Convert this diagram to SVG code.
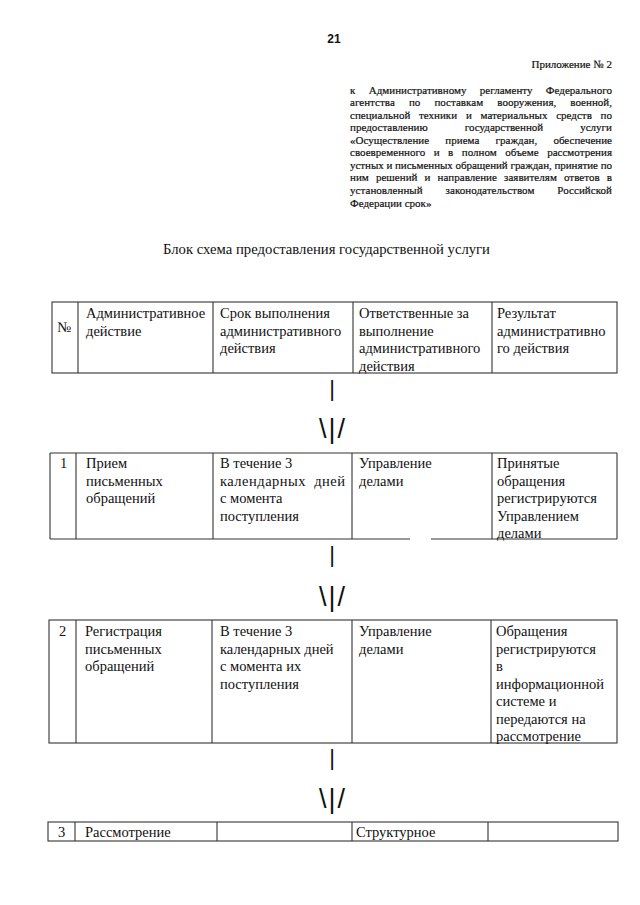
<svg xmlns="http://www.w3.org/2000/svg" width="640" height="905" viewBox="0 0 640 905">
<style>
  .p { font-family: "Liberation Serif", "Times New Roman", serif; font-size: 11px; fill: #111; stroke: #111; stroke-width: 0.2; }
  .e { text-anchor: end; }
  .t { font-family: "Liberation Serif", "Times New Roman", serif; font-size: 14.5px; fill: #111; }
  .ttl { font-family: "Liberation Serif", "Times New Roman", serif; font-size: 14.5px; fill: #111; }
  .cell { fill: none; stroke: #333; stroke-width: 1.1; }
  .arr { font-family: "Liberation Sans", Arial, sans-serif; fill: #111; text-anchor: middle; }
</style>
<rect width="640" height="905" fill="#fff"/>
<g id="header-text">
  <text x="334" y="43" style="font-family:'Liberation Sans',Arial,sans-serif;font-size:12px;font-weight:bold;fill:#111" text-anchor="middle">21</text>
  <text class="p e" x="612" y="68">Приложение № 2</text>
  <g class="p">
    <text x="350" y="93.5" word-spacing="10.6" textLength="262" lengthAdjust="spacing">к Административному регламенту Федерального</text>
    <text x="350" y="106" word-spacing="11.3" textLength="262" lengthAdjust="spacing">агентства по поставкам вооружения, военной,</text>
    <text x="350" y="118.6" word-spacing="6" textLength="262" lengthAdjust="spacing">специальной техники и материальных средств по</text>
    <text x="350" y="131.2" word-spacing="34.3" textLength="262" lengthAdjust="spacing">предоставлению государственной услуги</text>
    <text x="350" y="143.7" word-spacing="13.5" textLength="262" lengthAdjust="spacing">«Осуществление приема граждан, обеспечение</text>
    <text x="350" y="156.3" word-spacing="5.7" textLength="262" lengthAdjust="spacing">своевременного и в полном объеме рассмотрения</text>
    <text x="350" y="168.8" textLength="262" lengthAdjust="spacing">устных и письменных обращений граждан, принятие по</text>
    <text x="350" y="181.4" word-spacing="4.3" textLength="262" lengthAdjust="spacing">ним решений и направление заявителям ответов в</text>
    <text x="350" y="193.9" word-spacing="20.1" textLength="262" lengthAdjust="spacing">установленный законодательством Российской</text>
    <text x="350" y="206.5">Федерации срок»</text>
  </g>
  <text class="ttl" x="163" y="254" textLength="327" lengthAdjust="spacingAndGlyphs">Блок схема предоставления государственной услуги</text>
</g>

<g id="row-head">
  <rect class="cell" x="52" y="302" width="565" height="71"/>
  <line class="cell" x1="78" y1="302" x2="78" y2="373"/>
  <line class="cell" x1="213" y1="302" x2="213" y2="373"/>
  <line class="cell" x1="353" y1="302" x2="353" y2="373"/>
  <line class="cell" x1="492" y1="302" x2="492" y2="373"/>
  <text class="t" x="57" y="332">№</text>
  <text class="t"><tspan x="86" y="318">Административное</tspan><tspan x="86" y="335.5">действие</tspan></text>
  <text class="t"><tspan x="220" y="318">Срок выполнения</tspan><tspan x="220" y="335.5">административного</tspan><tspan x="220" y="353">действия</tspan></text>
  <text class="t"><tspan x="359" y="318">Ответственные за</tspan><tspan x="359" y="335.5">выполнение</tspan><tspan x="359" y="353">административного</tspan><tspan x="359" y="370.5">действия</tspan></text>
  <text class="t"><tspan x="497" y="318">Результат</tspan><tspan x="497" y="335.5">административно</tspan><tspan x="497" y="353">го действия</tspan></text>
</g>

<g id="row-1">
  <line class="cell" x1="50" y1="453" x2="617" y2="453"/>
  <line class="cell" x1="50" y1="539" x2="410" y2="539"/>
  <line class="cell" x1="431" y1="539" x2="617" y2="539"/>
  <line class="cell" x1="50" y1="453" x2="50" y2="539"/>
  <line class="cell" x1="76" y1="453" x2="76" y2="539"/>
  <line class="cell" x1="213" y1="453" x2="213" y2="539"/>
  <line class="cell" x1="352" y1="453" x2="352" y2="539"/>
  <line class="cell" x1="492" y1="453" x2="492" y2="539"/>
  <line class="cell" x1="617" y1="453" x2="617" y2="539"/>
  <text class="t" x="60" y="468">1</text>
  <text class="t"><tspan x="86" y="468">Прием</tspan><tspan x="86" y="485.5">письменных</tspan><tspan x="86" y="503">обращений</tspan></text>
  <text class="t"><tspan x="220" y="468">В течение 3</tspan><tspan x="220" y="503">с момента</tspan><tspan x="220" y="520.5">поступления</tspan></text>
  <text class="t" x="220" y="485.5" textLength="125" lengthAdjust="spacing" xml:space="preserve">календарных  дней</text>
  <text class="t"><tspan x="359" y="468">Управление</tspan><tspan x="359" y="485.5">делами</tspan></text>
  <text class="t"><tspan x="497" y="468">Принятые</tspan><tspan x="497" y="485.5">обращения</tspan><tspan x="497" y="503">регистрируются</tspan><tspan x="497" y="520.5">Управлением</tspan><tspan x="497" y="538">делами</tspan></text>
</g>

<g id="row-2">
  <rect class="cell" x="49" y="620" width="568" height="123"/>
  <line class="cell" x1="76" y1="620" x2="76" y2="743"/>
  <line class="cell" x1="212" y1="620" x2="212" y2="743"/>
  <line class="cell" x1="352" y1="620" x2="352" y2="743"/>
  <line class="cell" x1="491" y1="620" x2="491" y2="743"/>
  <text class="t" x="59" y="636">2</text>
  <text class="t"><tspan x="85" y="636">Регистрация</tspan><tspan x="85" y="653.5">письменных</tspan><tspan x="85" y="671">обращений</tspan></text>
  <text class="t"><tspan x="220" y="636">В течение 3</tspan><tspan x="220" y="653.5">календарных дней</tspan><tspan x="220" y="671">с момента их</tspan><tspan x="220" y="688.5">поступления</tspan></text>
  <text class="t"><tspan x="359" y="636">Управление</tspan><tspan x="359" y="653.5">делами</tspan></text>
  <text class="t"><tspan x="496" y="636">Обращения</tspan><tspan x="496" y="653.5">регистрируются</tspan><tspan x="496" y="671">в</tspan><tspan x="496" y="688.5">информационной</tspan><tspan x="496" y="706">системе и</tspan><tspan x="496" y="723.5">передаются на</tspan><tspan x="496" y="741">рассмотрение</tspan></text>
</g>

<g id="row-3">
  <rect class="cell" x="48" y="822" width="570" height="19"/>
  <line class="cell" x1="75" y1="822" x2="75" y2="841"/>
  <line class="cell" x1="217" y1="822" x2="217" y2="841"/>
  <line class="cell" x1="352" y1="822" x2="352" y2="841"/>
  <line class="cell" x1="488" y1="822" x2="488" y2="841"/>
  <text class="t" x="58" y="837">3</text>
  <text class="t" x="85" y="837">Рассмотрение</text>
  <text class="t" x="356" y="837">Структурное</text>
</g>

<g id="connectors">
  <text class="arr" x="332" y="396" font-size="22">|</text>
  <text class="arr" x="333" y="438" font-size="27" letter-spacing="2">\|/</text>
  <text class="arr" x="332" y="562" font-size="22">|</text>
  <text class="arr" x="333" y="606" font-size="27" letter-spacing="2">\|/</text>
  <text class="arr" x="332" y="765" font-size="22">|</text>
  <text class="arr" x="333" y="808" font-size="27" letter-spacing="2">\|/</text>
</g>
</svg>
